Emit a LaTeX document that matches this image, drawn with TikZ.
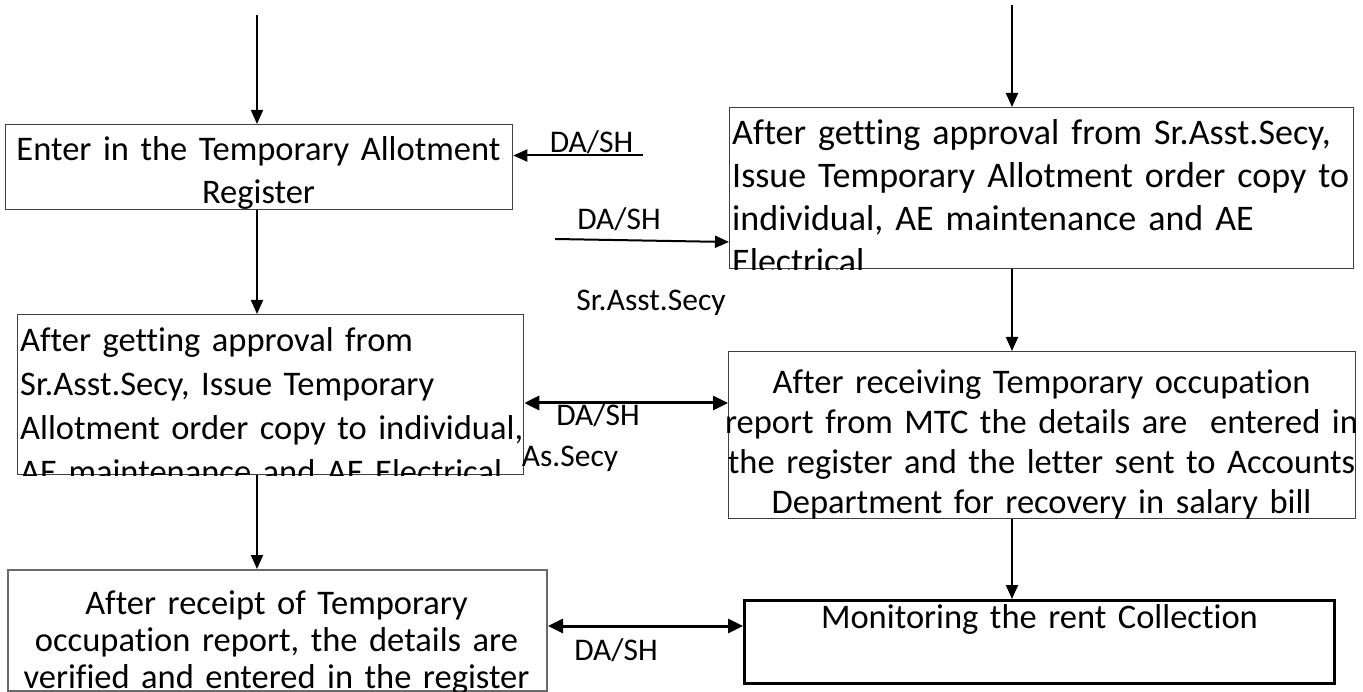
\documentclass[tikz,border=0pt]{standalone}
\usepackage{fontspec}
\setmainfont{Carlito}[Ligatures={NoCommon}]
\usetikzlibrary{arrows.meta}
\definecolor{boxgray}{HTML}{404040}
\definecolor{lightgray}{HTML}{6A6A6A}
\hyphenpenalty=10000
\begin{document}
\begin{tikzpicture}[x=1pt,y=-1pt,
  box/.style={draw=boxgray, line width=1.3pt, inner sep=0pt, anchor=north west},
  txt/.style 2 args={inner sep=0pt, text width=800pt, font=\fontsize{#1}{#2}\selectfont},
  flow/.style={line width=2pt, -{Triangle[length=14pt,width=12pt]}},
  twoway/.style={line width=3pt, {Triangle[length=15pt,width=14pt]}-{Triangle[length=15pt,width=14pt]}},
  lbl/.style={inner sep=0pt, anchor=base, font=\fontsize{31.5pt}{36pt}\selectfont}]
\useasboundingbox (0,0) rectangle (1363,692);

% process boxes
\node[box, minimum width=507pt, minimum height=85pt] (b1) at (5,124) {};
\node[box, minimum width=506pt, minimum height=160pt] (bL2) at (17,314) {};
\node[box, draw=lightgray, line width=2pt, minimum width=539pt, minimum height=121pt] (bL3) at (7,569) {};
\node[box, minimum width=624pt, minimum height=161pt] (b2) at (729,107) {};
\node[box, minimum width=627pt, minimum height=167pt] (b3) at (728,351) {};
\node[box, draw=black, line width=3pt, minimum width=590pt, minimum height=83pt] (b4) at (743,599) {};

% box texts
\node[txt={34.5pt}{43pt}, align=center, anchor=base] (t1) at (258.5,161)
  {Enter in the Temporary Allotment\\Register};
\begin{scope}
  \clip (bL2.north west) rectangle (bL2.south east);
  \node[txt={34.5pt}{44pt}, align=left, anchor=base west] (tL2) at (20,352)
    {After getting approval from\\Sr.Asst.Secy, Issue Temporary\\Allotment order copy to individual,\\AE maintenance and AE Electrical};
\end{scope}
\begin{scope}
  \clip (bL3.north west) rectangle (bL3.south east);
  \node[txt={34.5pt}{37pt}, align=center, anchor=base] (tL3) at (276.5,614)
    {After receipt of Temporary\\occupation report, the details are\\verified and entered in the register};
\end{scope}
\begin{scope}
  \clip (b2.north west) rectangle (b2.south east);
  \node[txt={36pt}{43pt}, align=left, anchor=base west] (t2) at (732,145)
    {After getting approval from Sr.Asst.Secy,\\Issue Temporary Allotment order copy to\\individual, AE maintenance and AE\\Electrical};
\end{scope}
\node[txt={34.5pt}{40pt}, align=center, anchor=base] (t3) at (1041.5,394)
  {After receiving Temporary occupation\\report from MTC the details are\ \ entered in\\the register and the letter sent to Accounts\\Department for recovery in salary bill};
\node[txt={34.5pt}{40pt}, align=center, anchor=base] (t4) at (b4.center |- 0,628)
  {Monitoring the rent Collection};

% connectors
\coordinate (inL) at (257,15);
\coordinate (inR) at (1012,5);
\draw[flow] (inL) -- (inL |- b1.north);
\draw[flow] (inL |- b1.south) -- (inL |- bL2.north);
\draw[flow] (inL |- bL2.south) -- (inL |- bL3.north);
\draw[flow] (inR) -- (inR |- b2.north);
\draw[flow] (inR |- b2.south) -- (inR |- b3.north);
\draw[flow] (inR |- b3.south) -- (inR |- b4.north);
\coordinate (s1) at (643,155.5);
\draw[flow] (s1) -- (s1 -| b1.east);
\coordinate (s2) at (555,239);
\coordinate (e2) at (0,242);
\draw[flow] (s2) -- (b2.west |- e2);
\coordinate (m1) at (0,403);
\draw[twoway] (bL2.east |- m1) -- (b3.west |- m1);
\coordinate (m2) at (0,626);
\draw[twoway] (bL3.east |- m2) -- (b4.west |- m2);

% role labels
\node[lbl] (l1) at (591.5,153) {DA/SH};
\node[lbl] (l2) at (619,230) {DA/SH};
\node[lbl] (l3) at (651,311) {Sr.Asst.Secy};
\node[lbl] (l4) at (598,425) {DA/SH};
\node[lbl] (l5) at (570,467) {As.Secy};
\node[lbl] (l6) at (616,660) {DA/SH};
\end{tikzpicture}
\end{document}
